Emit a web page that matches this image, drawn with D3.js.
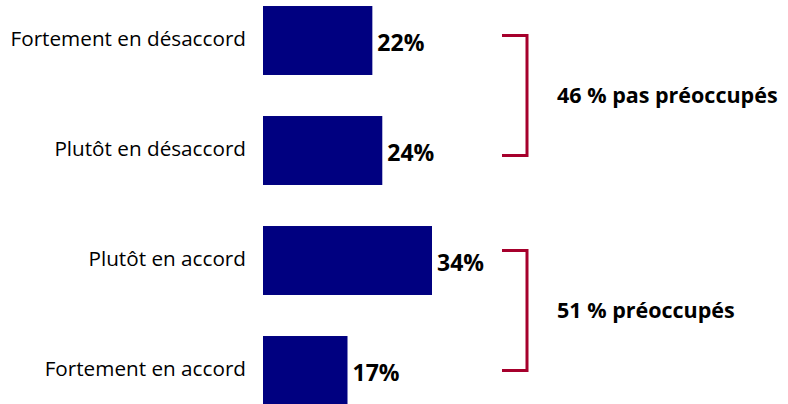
<!DOCTYPE html>
<html>
<head>
<meta charset="utf-8">
<script src="https://cdn.jsdelivr.net/npm/d3@7"></script>
<style>
  body { margin: 0; background: #fff; }
  text { font-family: "Open Sans", Lato, sans-serif; }
</style>
</head>
<body>
<div id="chart"></div>
<script>
const categories = ["Fortement en désaccord", "Plutôt en désaccord", "Plutôt en accord", "Fortement en accord"];
const values = [22, 24, 34, 17];
const groupLabels = ["46 % pas préoccupés", "51 % préoccupés"];
const groupRanges = [[0, 1], [2, 3]];

const width = 788, height = 404;

const svg = d3.select("#chart").append("svg")
    .attr("width", width)
    .attr("height", height);

const x = d3.scaleLinear().domain([0, 34]).range([263, 432]);
const y = d3.scaleBand()
    .domain(categories)
    .range([-14.5, 425.5])
    .paddingInner(0.373)
    .paddingOuter(0.1865);

// bars
svg.selectAll("rect.bar")
    .data(categories)
    .enter().append("rect")
    .attr("class", "bar")
    .attr("x", x(0))
    .attr("y", d => y(d))
    .attr("width", (d, i) => x(values[i]) - x(0))
    .attr("height", y.bandwidth())
    .attr("fill", "#000080");

// category labels
svg.selectAll("text.cat")
    .data(categories)
    .enter().append("text")
    .attr("class", "cat")
    .attr("x", 246)
    .attr("y", d => y(d) + y.bandwidth() / 2 + 5.5)
    .attr("text-anchor", "end")
    .style("font-size", "20.7px")
    .style("fill", "#000")
    .text(d => d);

// value labels
svg.selectAll("text.val")
    .data(categories)
    .enter().append("text")
    .attr("class", "val")
    .attr("x", (d, i) => x(values[i]) + 5)
    .attr("y", d => y(d) + y.bandwidth() / 2 + 10)
    .style("font-size", "23px")
    .style("font-weight", "bold")
    .style("fill", "#000")
    .text((d, i) => values[i] + "%");

// brackets
const mid = c => y(c) + y.bandwidth() / 2;
const bx0 = 502, bx1 = 527;
groupRanges.forEach((r, i) => {
    const top = i === 0 ? mid(categories[r[0]]) - 5 : mid(categories[r[0]]) - 10;
    const bot = i === 0 ? mid(categories[r[1]]) + 5 : mid(categories[r[1]]);
    svg.append("path")
        .attr("d", `M${bx0},${top}H${bx1}V${bot}H${bx0}`)
        .attr("fill", "none")
        .attr("stroke", "#A6002C")
        .attr("stroke-width", 3);
    svg.append("text")
        .attr("x", 557)
        .attr("y", (top + bot) / 2)
        .attr("dy", "0.35em")
        .style("font-size", "21.5px")
        .style("font-weight", "bold")
        .style("fill", "#000")
        .text(groupLabels[i]);
});
</script>
</body>
</html>
